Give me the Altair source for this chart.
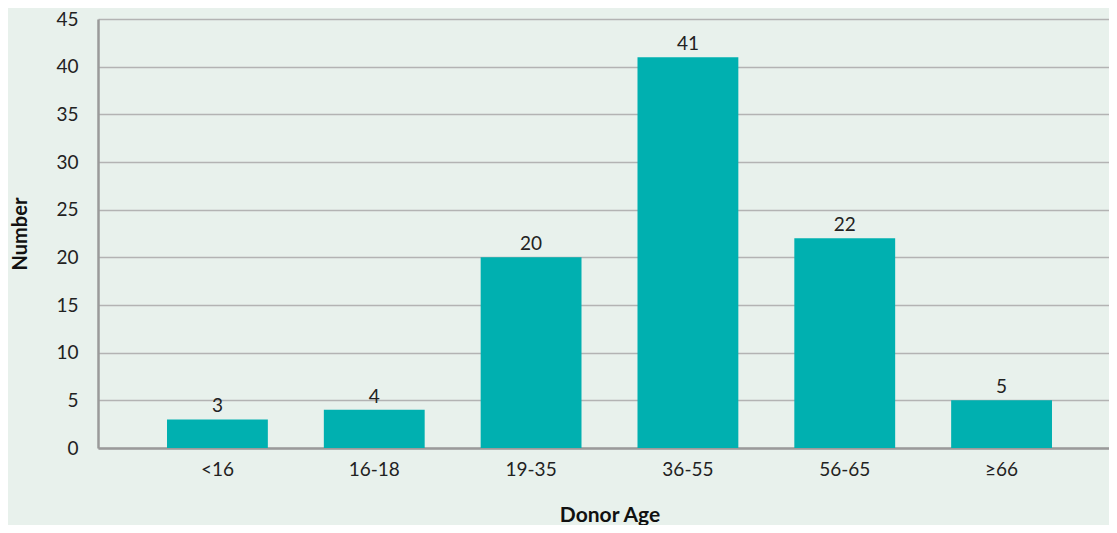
import altair as alt
import pandas as pd

categories = ["<16", "16-18", "19-35", "36-55", "56-65", "≥66"]
values = [3, 4, 20, 41, 22, 5]

df = pd.DataFrame({"age": categories, "n": values})

FONT = "Lato"
BG = "#e8f1ec"
BAR = "#00b0b0"

base = alt.Chart(df).encode(
    x=alt.X(
        "age:N",
        sort=categories,
        scale=alt.Scale(paddingInner=0.357, paddingOuter=0.44),
        axis=alt.Axis(
            title="Donor Age",
            labelAngle=0,
            ticks=False,
            domain=True,
            domainColor="#9a9a9a",
            domainWidth=2.5,
            grid=False,
            labelFont=FONT,
            labelFontSize=19,
            labelColor="#222222",
            labelPadding=12,
            titleFont=FONT,
            titleFontSize=21,
            titleFontWeight="bold",
            titleColor="#111111",
            titlePadding=25,
        ),
    ),
    y=alt.Y(
        "n:Q",
        scale=alt.Scale(domain=[0, 45], nice=False),
        axis=alt.Axis(
            title="Number",
            values=list(range(0, 46, 5)),
            ticks=False,
            domain=True,
            domainColor="#9a9a9a",
            domainWidth=2.5,
            grid=True,
            gridColor="#b3b3b3",
            gridWidth=1.5,
            labelFont=FONT,
            labelFontSize=19,
            labelColor="#222222",
            labelPadding=20,
            titleFont=FONT,
            titleFontSize=20,
            titleFontWeight="bold",
            titleColor="#111111",
            titlePadding=25,
        ),
    ),
)

bars = base.mark_bar(color=BAR)
labels = base.mark_text(
    dy=-13, font=FONT, fontSize=19, color="#222222"
).encode(text="n:Q")

chart = (
    (bars + labels)
    .properties(
        width=1023,
        height=429,
        background=BG,
        autosize=alt.AutoSizeParams(type="none"),
        padding={"left": 90, "top": 11, "right": -12, "bottom": 77},
    )
    .configure_view(stroke=None, fill=BG)
)

chart.save("out.html", embed_options={"renderer": "svg", "actions": False})
